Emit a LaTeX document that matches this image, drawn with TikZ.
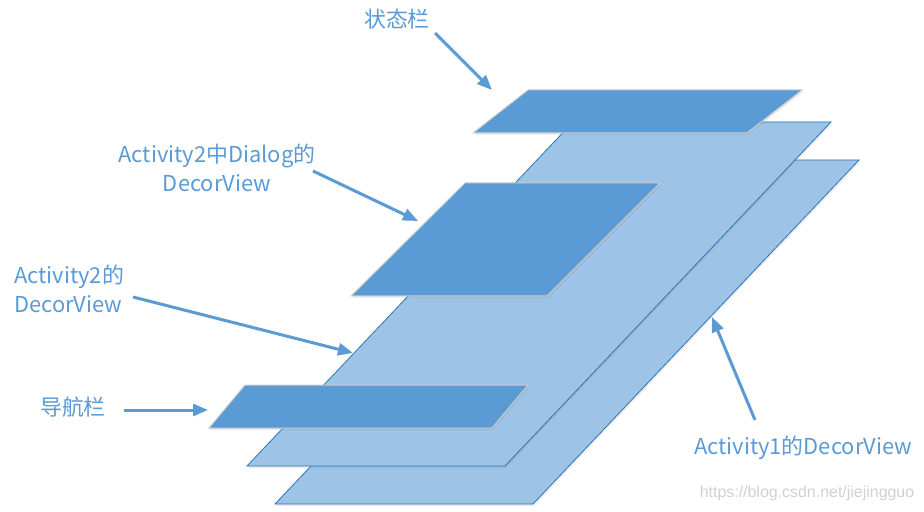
\documentclass[tikz,border=0pt]{standalone}
\usepackage{fontspec}
\newfontfamily\cjk{Noto Sans CJK SC}
\newfontfamily\wmfont{Liberation Sans}
\usetikzlibrary{arrows.meta,shadows}
\definecolor{darkblue}{HTML}{5B9BD5}
\definecolor{lightblue}{HTML}{9DC3E6}
\definecolor{edgeblue}{HTML}{2E75B6}
\begin{document}
\begin{tikzpicture}[x=1bp,y=-1bp,
  lightplane/.style={fill=lightblue, draw=edgeblue, line width=0.8bp, line join=miter,
    drop shadow={opacity=0.15, shadow xshift=1bp, shadow yshift=-2bp}},
  darkplane/.style={fill=darkblue, draw=black!20, line width=1bp, line join=miter,
    drop shadow={opacity=0.15, shadow xshift=1bp, shadow yshift=-2bp}},
  lbl/.style={text=darkblue, font=\cjk\fontsize{22}{29}\selectfont, inner sep=0pt},
  pointer/.style={draw=darkblue, line width=3bp, -{Triangle[length=15bp,width=12bp]}},
]
\useasboundingbox (0,0) rectangle (924,512);
\fill[white] (0,0) rectangle (924,512);

% planes
\draw[lightplane] (275,504) -- (533,504) -- (859,160) -- (601,160) -- cycle;
\draw[lightplane] (247,466) -- (505,466) -- (831,122) -- (573,122) -- cycle;
\draw[darkplane] (473,133) -- (747,133) -- (802,90) -- (528,90) -- cycle;
\draw[darkplane] (351,296) -- (547,296) -- (660,183) -- (465,183) -- cycle;
\draw[darkplane] (209,428) -- (492,428) -- (528,385) -- (245,385) -- cycle;

% labels
\node[lbl] (status) at (397,19) {状态栏};
\node[lbl, align=center] (dialog) at (217,167.5) {Activity2中Dialog的\\DecorView};
\node[lbl, align=left, anchor=west] (act2) at (14,289) {Activity2的\\DecorView};
\node[lbl] (nav) at (73,407) {导航栏};
\node[lbl] (act1) at (803,448) {Activity1的DecorView};
\node[text=black!18, font=\wmfont\fontsize{16}{18}\selectfont, inner sep=0pt] (wm) at (807,493) {https://blog.csdn.net/jiejingguo};

% arrow coordinates
\coordinate (s0) at (435,33);   \coordinate (s1) at (492,90);
\coordinate (d0) at (313,171);  \coordinate (d1) at (418,221);
\coordinate (b0) at (133,297);  \coordinate (b1) at (353,353);
\coordinate (n0) at (124,410);  \coordinate (n1) at (208,410);
\coordinate (c0) at (755,420);  \coordinate (c1) at (712,317);

\draw[pointer] (s0) -- (s1);
\draw[pointer] (d0) -- (d1);
\draw[pointer] (b0) -- (b1);
\draw[pointer] (n0) -- (n1);
\draw[pointer] (c0) -- (c1);
\end{tikzpicture}
\end{document}
